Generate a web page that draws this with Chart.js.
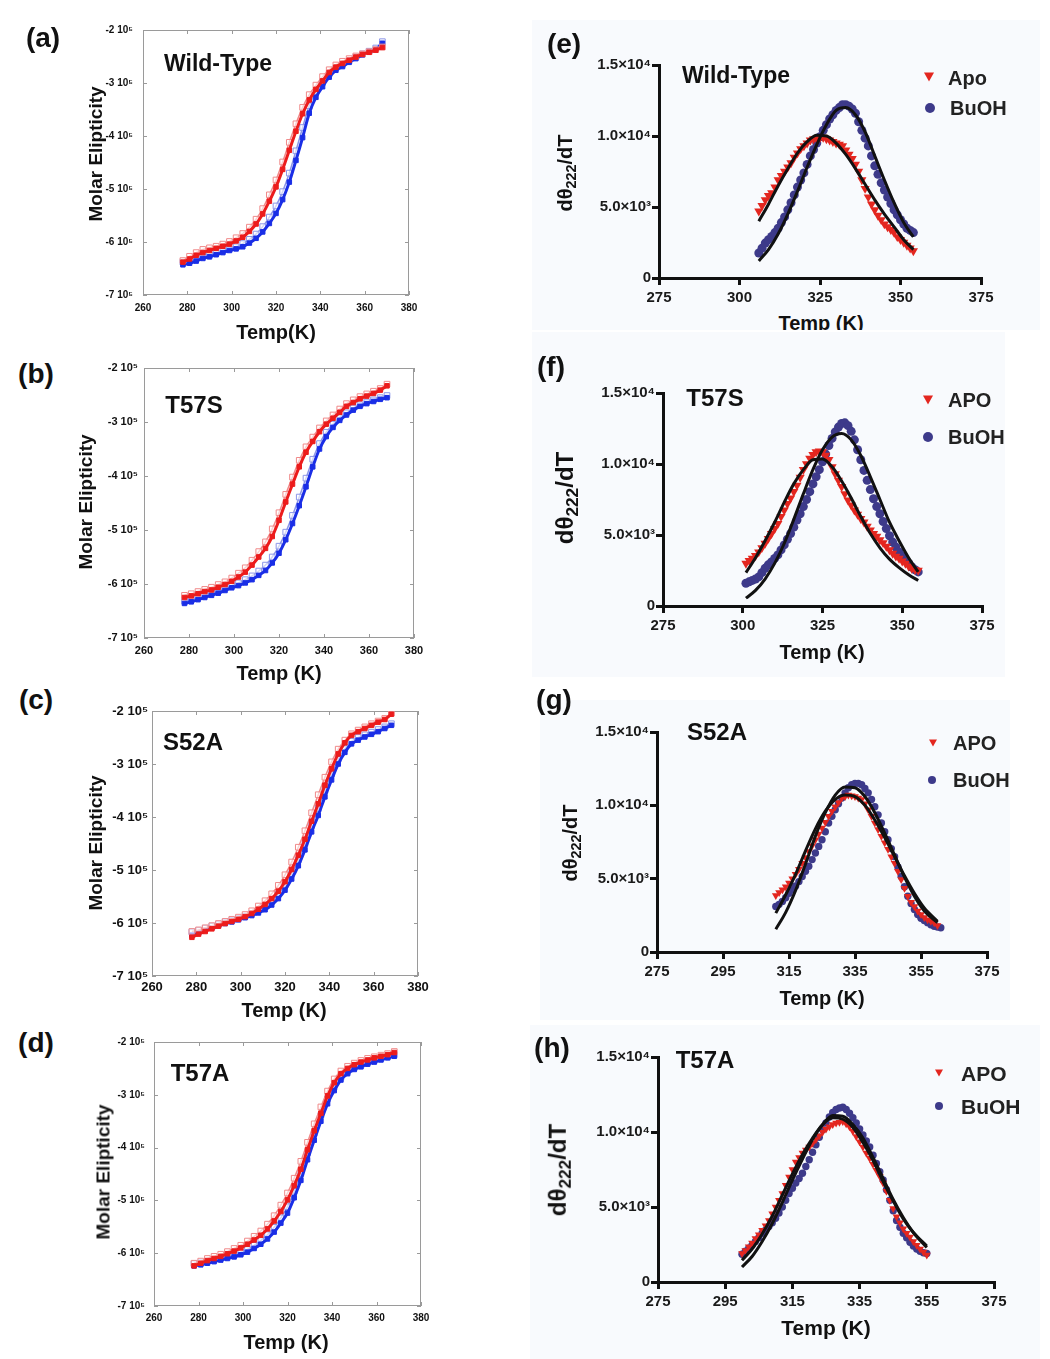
<!DOCTYPE html>
<html>
<head>
<meta charset="utf-8">
<title>Thermal melts</title>
<script src="https://cdn.jsdelivr.net/npm/chart.js@4.4.1/dist/chart.umd.min.js"></script>
<style>
  body { margin: 0; background: #fff; width: 1050px; height: 1359px; position: relative; overflow: hidden;
         font-family: Arial, "Liberation Sans", Helvetica, sans-serif; }
  canvas { position: absolute; z-index: 1; }
  .bg { position: absolute; background: #f8fafd; overflow: hidden; z-index: 0; }
  .t { position: absolute; transform: translate(-50%, -50%); white-space: nowrap; font-weight: bold;
       color: #111; line-height: 1; z-index: 2; }
  .rot { transform: translate(-50%, -50%) rotate(-90deg); }
  .lg { position: absolute; transform: translateY(-50%); white-space: nowrap; font-weight: bold;
        color: #222; font-size: 20px; line-height: 1; z-index: 2; }
  .tri { position: absolute; width: 0; height: 0; border-left: 5px solid transparent;
         border-right: 5px solid transparent; border-top: 9px solid #e3261f; transform: translate(-50%, -50%); z-index: 2; }
  .dot { position: absolute; width: 10px; height: 10px; border-radius: 50%; background: #3d3a8a;
         transform: translate(-50%, -50%); z-index: 2; }
  .sm.tri { border-left-width: 4px; border-right-width: 4px; border-top-width: 7px; }
  .sm.dot { width: 8px; height: 8px; }
  sub { font-size: 0.72em; vertical-align: -0.3em; }
</style>
</head>
<body>

<!-- faint backgrounds of the right-hand panels -->
<div class="bg" style="left:532px;top:20px;width:508px;height:310px;">
  <div class="t" style="left:289px;top:303px;font-size:20px;">Temp (K)</div>
</div>
<div class="bg" style="left:532px;top:332px;width:473px;height:345px;"></div>
<div class="bg" style="left:540px;top:700px;width:470px;height:320px;"></div>
<div class="bg" style="left:530px;top:1025px;width:510px;height:334px;"></div>

<canvas id="chartA"></canvas>
<canvas id="chartB"></canvas>
<canvas id="chartC"></canvas>
<canvas id="chartD"></canvas>
<canvas id="chartE"></canvas>
<canvas id="chartF"></canvas>
<canvas id="chartG"></canvas>
<canvas id="chartH"></canvas>

<!-- panel letters -->
<div class="t" style="left:43px;top:38px;font-size:28px;">(a)</div>
<div class="t" style="left:36px;top:374px;font-size:28px;">(b)</div>
<div class="t" style="left:36px;top:700px;font-size:28px;">(c)</div>
<div class="t" style="left:36px;top:1043px;font-size:28px;">(d)</div>
<div class="t" style="left:564px;top:44px;font-size:28px;">(e)</div>
<div class="t" style="left:551px;top:367px;font-size:28px;">(f)</div>
<div class="t" style="left:554px;top:700px;font-size:28px;">(g)</div>
<div class="t" style="left:552px;top:1048px;font-size:28px;">(h)</div>

<!-- protein names -->
<div class="t" style="left:218px;top:63px;font-size:23px;">Wild-Type</div>
<div class="t" style="left:194px;top:405px;font-size:24px;">T57S</div>
<div class="t" style="left:193px;top:742px;font-size:24px;">S52A</div>
<div class="t" style="left:200px;top:1073px;font-size:24px;">T57A</div>
<div class="t" style="left:736px;top:75px;font-size:23px;">Wild-Type</div>
<div class="t" style="left:715px;top:398px;font-size:24px;">T57S</div>
<div class="t" style="left:717px;top:732px;font-size:24px;">S52A</div>
<div class="t" style="left:705px;top:1060px;font-size:24px;">T57A</div>

<!-- axis titles, left column -->
<div class="t rot" style="left:95px;top:154px;font-size:19px;">Molar Elipticity</div>
<div class="t" style="left:276px;top:332px;font-size:20px;">Temp(K)</div>
<div class="t rot" style="left:85px;top:502px;font-size:19px;">Molar Elipticity</div>
<div class="t" style="left:279px;top:673px;font-size:20px;">Temp (K)</div>
<div class="t rot" style="left:95px;top:843px;font-size:19px;">Molar Elipticity</div>
<div class="t" style="left:284px;top:1010px;font-size:20px;">Temp (K)</div>
<div class="t rot" style="left:103px;top:1172px;font-size:19px;">Molar Elipticity</div>
<div class="t" style="left:286px;top:1342px;font-size:20px;">Temp (K)</div>

<!-- axis titles, right column -->
<div class="t rot" style="left:567px;top:173px;font-size:20px;">d&theta;<sub>222</sub>/dT</div>
<div class="t rot" style="left:567px;top:498px;font-size:24px;">d&theta;<sub>222</sub>/dT</div>
<div class="t" style="left:822px;top:652px;font-size:20px;">Temp (K)</div>
<div class="t rot" style="left:572px;top:843px;font-size:20px;">d&theta;<sub>222</sub>/dT</div>
<div class="t" style="left:822px;top:998px;font-size:20px;">Temp (K)</div>
<div class="t rot" style="left:560px;top:1170px;font-size:24px;">d&theta;<sub>222</sub>/dT</div>
<div class="t" style="left:826px;top:1327px;font-size:21px;">Temp (K)</div>

<!-- legends, right column -->
<div class="tri" style="left:929px;top:77px;"></div><div class="lg" style="left:948px;top:78px;">Apo</div>
<div class="dot" style="left:930px;top:108px;"></div><div class="lg" style="left:950px;top:108px;">BuOH</div>
<div class="tri" style="left:928px;top:400px;"></div><div class="lg" style="left:948px;top:400px;">APO</div>
<div class="dot" style="left:928px;top:437px;"></div><div class="lg" style="left:948px;top:437px;">BuOH</div>
<div class="tri sm" style="left:933px;top:743px;"></div><div class="lg" style="left:953px;top:743px;">APO</div>
<div class="dot sm" style="left:932px;top:780px;"></div><div class="lg" style="left:953px;top:780px;">BuOH</div>
<div class="tri sm" style="left:939px;top:1073px;"></div><div class="lg" style="left:961px;top:1073px;font-size:21px;">APO</div>
<div class="dot sm" style="left:939px;top:1106px;"></div><div class="lg" style="left:961px;top:1106px;font-size:21px;">BuOH</div>

<script>
// ==============================
// Data: melting curves (a-d), molar ellipticity in units of 1e5
// ==============================
const meltT = [278,281,284,287,290,293,296,299,302,305,308,311,314,317,320,323,326,329,332,335,338,341,344,347,350,353,356,359,362,365,368];

const aRed      = [-6.38,-6.32,-6.25,-6.20,-6.16,-6.12,-6.08,-6.04,-5.98,-5.91,-5.80,-5.66,-5.47,-5.23,-4.96,-4.63,-4.27,-3.91,-3.58,-3.32,-3.12,-2.96,-2.80,-2.70,-2.63,-2.57,-2.51,-2.46,-2.42,-2.38,-2.33];
const aRedOpen  = [-6.35,-6.27,-6.20,-6.14,-6.11,-6.08,-6.04,-5.99,-5.92,-5.84,-5.72,-5.57,-5.37,-5.11,-4.83,-4.49,-4.12,-3.77,-3.46,-3.22,-3.04,-2.88,-2.75,-2.66,-2.59,-2.54,-2.49,-2.45,-2.41,-2.37,-2.32];
const aBlue     = [-6.43,-6.40,-6.36,-6.31,-6.28,-6.24,-6.20,-6.16,-6.13,-6.09,-6.02,-5.93,-5.81,-5.65,-5.46,-5.20,-4.87,-4.46,-4.03,-3.57,-3.27,-3.07,-2.89,-2.76,-2.69,-2.61,-2.54,-2.47,-2.42,-2.37,-2.25];
const aBlueOpen = [-6.38,-6.36,-6.31,-6.27,-6.24,-6.21,-6.17,-6.13,-6.09,-6.03,-5.95,-5.85,-5.71,-5.53,-5.32,-5.05,-4.70,-4.28,-3.84,-3.43,-3.17,-2.99,-2.83,-2.72,-2.65,-2.58,-2.51,-2.45,-2.40,-2.34,-2.22];

const bRed      = [-6.25,-6.22,-6.18,-6.14,-6.11,-6.06,-6.01,-5.95,-5.87,-5.78,-5.65,-5.50,-5.34,-5.12,-4.82,-4.48,-4.15,-3.83,-3.56,-3.36,-3.18,-3.04,-2.93,-2.82,-2.71,-2.64,-2.57,-2.52,-2.47,-2.41,-2.33];
const bRedOpen  = [-6.21,-6.18,-6.14,-6.10,-6.06,-6.01,-5.96,-5.89,-5.80,-5.70,-5.56,-5.40,-5.22,-4.98,-4.68,-4.34,-4.02,-3.71,-3.46,-3.28,-3.11,-2.98,-2.87,-2.76,-2.66,-2.59,-2.53,-2.48,-2.43,-2.38,-2.30];
const bBlue     = [-6.36,-6.33,-6.29,-6.25,-6.21,-6.17,-6.12,-6.07,-6.03,-5.98,-5.92,-5.84,-5.75,-5.61,-5.43,-5.18,-4.88,-4.55,-4.20,-3.83,-3.50,-3.27,-3.10,-2.97,-2.87,-2.78,-2.71,-2.66,-2.62,-2.58,-2.55];
const bBlueOpen = [-6.32,-6.29,-6.25,-6.21,-6.17,-6.13,-6.08,-6.03,-5.98,-5.92,-5.85,-5.76,-5.65,-5.50,-5.30,-5.04,-4.73,-4.39,-4.04,-3.69,-3.40,-3.19,-3.04,-2.92,-2.83,-2.74,-2.68,-2.63,-2.59,-2.55,-2.51];

const cRed      = [-6.27,-6.21,-6.16,-6.11,-6.06,-6.01,-5.97,-5.93,-5.88,-5.82,-5.74,-5.65,-5.54,-5.40,-5.22,-4.99,-4.72,-4.42,-4.08,-3.75,-3.40,-3.09,-2.81,-2.60,-2.46,-2.39,-2.33,-2.27,-2.21,-2.16,-2.06];
const cRedOpen  = [-6.16,-6.13,-6.09,-6.05,-6.01,-5.97,-5.93,-5.89,-5.84,-5.77,-5.68,-5.58,-5.45,-5.29,-5.09,-4.85,-4.57,-4.26,-3.92,-3.58,-3.25,-2.96,-2.72,-2.55,-2.43,-2.36,-2.30,-2.24,-2.19,-2.14,-2.04];
const cBlue     = [-6.23,-6.19,-6.14,-6.09,-6.05,-6.01,-5.98,-5.94,-5.90,-5.86,-5.81,-5.75,-5.66,-5.54,-5.38,-5.17,-4.92,-4.62,-4.28,-3.97,-3.62,-3.30,-3.00,-2.78,-2.62,-2.55,-2.49,-2.44,-2.39,-2.33,-2.27];
const cBlueOpen = [-6.17,-6.14,-6.10,-6.06,-6.02,-5.98,-5.95,-5.91,-5.87,-5.82,-5.76,-5.69,-5.59,-5.46,-5.29,-5.07,-4.81,-4.50,-4.16,-3.84,-3.50,-3.19,-2.91,-2.71,-2.57,-2.50,-2.45,-2.40,-2.35,-2.30,-2.24];

const dRed      = [-6.24,-6.19,-6.14,-6.10,-6.06,-6.01,-5.96,-5.90,-5.83,-5.75,-5.66,-5.54,-5.39,-5.21,-4.99,-4.72,-4.41,-4.04,-3.68,-3.35,-3.02,-2.77,-2.60,-2.50,-2.43,-2.38,-2.34,-2.30,-2.27,-2.24,-2.20];
const dRedOpen  = [-6.19,-6.15,-6.10,-6.06,-6.02,-5.97,-5.91,-5.85,-5.77,-5.68,-5.58,-5.45,-5.29,-5.09,-4.86,-4.58,-4.26,-3.90,-3.55,-3.23,-2.93,-2.70,-2.55,-2.46,-2.40,-2.35,-2.31,-2.28,-2.25,-2.22,-2.18];
const dBlue     = [-6.24,-6.22,-6.19,-6.16,-6.13,-6.10,-6.07,-6.03,-5.98,-5.91,-5.83,-5.73,-5.60,-5.43,-5.24,-4.95,-4.62,-4.23,-3.86,-3.50,-3.17,-2.92,-2.72,-2.60,-2.52,-2.47,-2.42,-2.38,-2.34,-2.30,-2.27];
const dBlueOpen = [-6.20,-6.18,-6.15,-6.12,-6.09,-6.06,-6.03,-5.98,-5.93,-5.85,-5.76,-5.65,-5.51,-5.33,-5.12,-4.83,-4.49,-4.10,-3.73,-3.39,-3.08,-2.85,-2.67,-2.56,-2.49,-2.44,-2.39,-2.35,-2.31,-2.28,-2.24];

const meltXTicks = [260, 280, 300, 320, 340, 360, 380];
const meltYTicks = [-7, -6, -5, -4, -3, -2];
const meltYTickLabels = ['-7 10\u2075', '-6 10\u2075', '-5 10\u2075', '-4 10\u2075', '-3 10\u2075', '-2 10\u2075'];

// ==============================
// Data: first derivative (e-h), d(theta)/dT in units of 1e3
// ==============================
const eT       = [306,307,308,309,310,311,312,313,314,315,316,317,318,319,320,321,322,323,324,325,326,327,328,329,330,
                  331,332,333,334,335,336,337,338,339,340,341,342,343,344,345,346,347,348,349,350,351,352,353,354];
const eApo     = [4.7,5.1,5.5,5.8,6.0,6.4,6.9,7.2,7.5,7.8,8.1,8.5,8.8,9.1,9.3,9.5,9.7,9.8,9.8,9.9,9.9,9.8,9.7,9.6,9.5,
                  9.4,9.3,9.0,8.7,8.4,8.0,7.5,6.9,6.3,5.7,5.2,4.8,4.4,4.1,3.8,3.6,3.4,3.2,2.9,2.7,2.5,2.3,2.1,1.9];
const eBuoh    = [1.76,2.1,2.46,2.7,2.93,3.2,3.5,3.9,4.3,4.8,5.3,5.85,6.4,6.9,7.4,8.0,8.6,9.05,9.5,9.95,10.4,10.8,11.2,11.5,11.8,
                  12.0,12.2,12.2,12.1,11.9,11.6,11.0,10.4,9.85,9.3,8.6,7.9,7.3,6.7,6.2,5.7,5.25,4.8,4.45,4.1,3.8,3.5,3.35,3.2];
const eFitT    = [306,309,312,315,318,321,324,327,330,333,336,339,342,345,348,351,354];
const eFitApo  = [4.0,5.2,6.5,7.7,8.8,9.6,10.05,10.0,9.5,8.7,7.7,6.6,5.5,4.5,3.6,2.7,2.0];
const eFitBuoh = [1.2,2.0,3.1,4.5,6.1,7.8,9.4,10.8,11.8,12.0,11.5,10.3,8.6,6.9,5.3,3.9,2.9];

const fT       = [301,302,303,304,305,306,307,308,309,310,311,312,313,314,315,316,317,318,319,320,321,322,323,324,325,326,327,328,
                  329,330,331,332,333,334,335,336,337,338,339,340,341,342,343,344,345,346,347,348,349,350,351,352,353,354,355];
const fApo     = [3.0,3.2,3.35,3.55,3.8,4.1,4.4,4.75,5.1,5.45,5.8,6.3,6.75,7.2,7.6,8.05,8.5,9.05,9.6,10.0,10.4,10.65,10.85,10.9,10.85,10.6,10.3,9.8,
                  9.3,8.85,8.4,7.9,7.45,7.1,6.75,6.45,6.15,5.9,5.6,5.35,5.1,4.9,4.65,4.45,4.2,3.95,3.7,3.5,3.35,3.15,3.0,2.8,2.65,2.55,2.5];
const fBuoh    = [1.6,1.7,1.8,1.9,2.05,2.35,2.65,2.9,3.1,3.35,3.6,3.95,4.3,4.7,5.1,5.55,6.05,6.5,7.0,7.5,8.05,8.6,9.1,9.6,10.15,10.7,11.3,11.8,
                  12.25,12.6,12.85,12.9,12.7,12.3,11.7,11.0,10.3,9.55,8.85,8.2,7.55,7.0,6.5,5.95,5.45,4.95,4.5,4.15,3.8,3.5,3.25,3.0,2.75,2.55,2.4];
const fFitT    = [301,304,307,310,313,316,319,322,325,328,331,334,337,340,343,346,349,352,355];
const fFitApo  = [2.35,3.4,4.6,5.9,7.3,8.6,9.6,10.3,10.35,9.8,8.8,7.6,6.3,5.1,4.1,3.3,2.7,2.2,1.8];
const fFitBuoh = [0.55,1.1,1.9,3.0,4.4,6.1,7.9,9.6,11.0,11.9,12.15,11.7,10.6,9.1,7.5,5.9,4.6,3.4,2.4];

const gApoT    = [311,312,313,314,315,316,317,318,319,320,321,322,323,324,325,326,327,328,329,330,331,332,333,334,335,
                  336,337,338,339,340,341,342,343,344,345,346,347,348,349,350,351,352,353,354,355,356,357,358,359,360];
const gApo     = [3.85,4.05,4.25,4.45,4.7,5.0,5.3,5.65,6.05,6.45,6.85,7.25,7.65,8.05,8.45,8.85,9.25,9.6,9.9,10.2,10.5,10.6,10.7,10.65,10.6,
                  10.5,10.4,10.1,9.7,9.25,8.8,8.35,7.9,7.45,7.0,6.5,6.05,5.5,4.95,4.35,3.8,3.4,3.1,2.8,2.55,2.35,2.2,2.1,2.0,1.8];
const gBuohT   = [311,312,313,314,315,316,317,318,319,320,321,322,323,324,325,326,327,328,329,330,331,332,333,334,335,336,
                  337,338,339,340,341,342,343,344,345,346,347,348,349,350,351,352,353,354,355,356,357,358,359,360,361];
const gBuoh    = [3.1,3.25,3.45,3.7,4.0,4.25,4.5,4.8,5.15,5.5,5.85,6.3,6.75,7.2,7.65,8.2,8.8,9.25,9.7,10.1,10.5,10.85,11.2,11.4,11.5,11.5,
                  11.4,11.15,10.85,10.4,9.9,9.35,8.8,8.2,7.65,7.05,6.5,5.8,5.15,4.45,3.8,3.3,2.9,2.55,2.3,2.15,2.0,1.85,1.75,1.7,1.65];
const gFitT    = [311,314,317,320,323,326,329,332,335,338,341,344,347,350,353,356,360];
const gFitApo  = [2.65,3.9,5.3,6.9,8.4,9.6,10.4,10.7,10.6,10.0,9.0,7.8,6.5,5.2,4.0,3.0,2.1];
const gFitBuoh = [1.55,2.7,4.2,6.0,7.9,9.5,10.7,11.25,11.2,10.6,9.5,8.1,6.6,5.1,3.8,2.8,2.0];

const hT       = [300,301,302,303,304,305,306,307,308,309,310,311,312,313,314,315,316,317,318,319,320,321,322,323,324,325,326,327,
                  328,329,330,331,332,333,334,335,336,337,338,339,340,341,342,343,344,345,346,347,348,349,350,351,352,353,354,355];
const hApo     = [1.9,2.1,2.35,2.6,2.9,3.15,3.45,3.75,4.1,4.55,5.0,5.45,5.9,6.45,7.0,7.5,8.0,8.3,8.6,8.8,9.0,9.25,9.5,9.75,10.0,10.2,10.35,10.5,
                  10.6,10.65,10.7,10.55,10.35,10.05,9.7,9.35,9.0,8.6,8.25,7.85,7.45,7.05,6.6,6.05,5.45,4.9,4.35,3.95,3.55,3.25,3.0,2.7,2.45,2.2,2.0,1.8];
const hBuoh    = [1.85,2.05,2.25,2.45,2.7,2.95,3.25,3.45,3.7,3.95,4.25,4.6,5.0,5.45,5.9,6.25,6.6,6.9,7.25,7.7,8.15,8.65,9.15,9.65,10.15,10.6,11.0,11.3,
                  11.5,11.6,11.65,11.5,11.25,10.95,10.6,10.2,9.8,9.4,9.0,8.45,7.9,7.35,6.8,6.15,5.45,4.75,4.1,3.65,3.25,2.95,2.65,2.4,2.2,2.05,1.95,1.9];
const hFitT    = [300,303,306,309,312,315,318,321,324,327,330,333,336,339,342,345,348,351,355];
const hFitApo  = [1.45,2.2,3.2,4.4,5.8,7.2,8.5,9.6,10.5,10.95,10.85,10.3,9.3,8.1,6.7,5.4,4.2,3.3,2.4];
const hFitBuoh = [1.0,1.7,2.7,3.9,5.3,6.8,8.2,9.5,10.5,11.1,11.05,10.5,9.6,8.3,6.9,5.5,4.3,3.3,2.3];

const derivYTicks = [0, 5, 10, 15];
const derivYTickLabels = ['0', '5.0\u00d710\u00b3', '1.0\u00d710\u2074', '1.5\u00d710\u2074'];

// ==============================
// Shared helpers
// ==============================
const FONT = 'Arial, "Liberation Sans", Helvetica, sans-serif';
Chart.defaults.font.family = FONT;
Chart.defaults.color = '#111';

const pts = (xs, ys) => xs.map((x, i) => ({ x: x, y: ys[i] }));

// grey box with inward tick marks on all four sides (panels a-d)
const boxFrame = {
    id: 'boxFrame',
    beforeDatasetsDraw(chart) {
        const { ctx, chartArea: a, scales: { x, y } } = chart;
        ctx.save();
        ctx.strokeStyle = '#9a9a9a';
        ctx.lineWidth = 1;
        ctx.strokeRect(a.left + 0.5, a.top + 0.5, a.right - a.left - 1, a.bottom - a.top - 1);
        ctx.beginPath();
        x.ticks.forEach(t => {
            const px = Math.round(x.getPixelForValue(t.value)) + 0.5;
            ctx.moveTo(px, a.bottom); ctx.lineTo(px, a.bottom - 4);
            ctx.moveTo(px, a.top); ctx.lineTo(px, a.top + 4);
        });
        y.ticks.forEach(t => {
            const py = Math.round(y.getPixelForValue(t.value)) + 0.5;
            ctx.moveTo(a.left, py); ctx.lineTo(a.left + 4, py);
            ctx.moveTo(a.right, py); ctx.lineTo(a.right - 4, py);
        });
        ctx.stroke();
        ctx.restore();
    }
};

function placeCanvas(id, box) {
    const cv = document.getElementById(id);
    cv.style.left = box.x + 'px';
    cv.style.top = box.y + 'px';
    cv.width = box.w;
    cv.height = box.h;
    return cv.getContext('2d');
}

// ==============================
// Melting curve panels (a-d)
// ==============================
function meltChart(id, area, tickSize, xPad, yPad, red, redOpen, blue, blueOpen) {
    const [L, T, R, B] = area;
    const yW = 80, xH = 30;
    const box = { x: L - 85, y: T - 20, w: R - L + 110, h: B - T + 55 };
    const ctx = placeCanvas(id, box);
    const tickFont = { size: tickSize, weight: 'bold', family: FONT };

    const openSq = (ys, col) => ({
        type: 'line', data: pts(meltT, ys), borderColor: col, borderWidth: 1.5, fill: false, tension: 0.3,
        pointStyle: 'rect', pointRadius: 4,
        pointBackgroundColor: 'rgba(255,255,255,0.6)', pointBorderColor: col, pointBorderWidth: 1
    });
    const filledSq = (ys, col) => ({
        type: 'line', data: pts(meltT, ys), borderColor: col, borderWidth: 3, fill: false, tension: 0.3,
        pointStyle: 'rect', pointRadius: 3.2, pointBackgroundColor: col, pointBorderColor: col, pointBorderWidth: 1
    });

    return new Chart(ctx, {
        type: 'scatter',
        data: {
            datasets: [
                filledSq(red, '#ec1c1c'),
                openSq(redOpen, '#f08a8a'),
                filledSq(blue, '#1a2ee6'),
                openSq(blueOpen, '#8c96e8')
            ]
        },
        options: {
            responsive: false,
            animation: false,
            events: [],
            layout: { padding: { left: L - box.x - yW, top: 20, right: 25, bottom: box.h - (B - box.y) - xH } },
            plugins: { legend: { display: false }, tooltip: { enabled: false } },
            scales: {
                x: {
                    type: 'linear', min: 260, max: 380,
                    afterBuildTicks: s => { s.ticks = meltXTicks.map(v => ({ value: v })); },
                    afterFit: s => { s.height = xH; },
                    ticks: { font: tickFont, color: '#111', padding: xPad, maxRotation: 0, autoSkip: false },
                    grid: { display: false, drawTicks: false },
                    border: { display: false }
                },
                y: {
                    type: 'linear', min: -7, max: -2,
                    afterBuildTicks: s => { s.ticks = meltYTicks.map(v => ({ value: v })); },
                    afterFit: s => { s.width = yW; },
                    ticks: {
                        font: tickFont, color: '#111', padding: yPad, autoSkip: false,
                        callback: v => meltYTickLabels[meltYTicks.indexOf(v)]
                    },
                    grid: { display: false, drawTicks: false },
                    border: { display: false }
                }
            }
        },
        plugins: [boxFrame]
    });
}

meltChart('chartA', [143, 30, 409, 295], 10, 7, 10, aRed, aRedOpen, aBlue, aBlueOpen);
meltChart('chartB', [144, 368, 414, 638], 11, 6, 6, bRed, bRedOpen, bBlue, bBlueOpen);
meltChart('chartC', [152, 711, 418, 976], 13, 4, 4, cRed, cRedOpen, cBlue, cBlueOpen);
meltChart('chartD', [154, 1042, 421, 1306], 10, 6, 9, dRed, dRedOpen, dBlue, dBlueOpen);

// ==============================
// Derivative panels (e-h)
// ==============================
function derivChart(id, area, xStep, markR, apo, buoh, fitApo, fitBuoh) {
    const [L, T, R, B] = area;
    const yW = 95, xH = 35;
    const box = { x: L - 100, y: T - 20, w: R - L + 125, h: B - T + 60 };
    const ctx = placeCanvas(id, box);
    const tickFont = { size: 15, weight: 'bold', family: FONT };
    const fitLine = d => ({
        type: 'line', data: d, borderColor: '#111', borderWidth: 3, fill: false,
        cubicInterpolationMode: 'monotone', pointRadius: 0
    });

    return new Chart(ctx, {
        type: 'scatter',
        data: {
            datasets: [
                fitLine(fitApo),
                fitLine(fitBuoh),
                { data: apo, pointStyle: 'triangle', pointRotation: 180, pointRadius: markR + 0.8,
                  pointBackgroundColor: '#e3261f', pointBorderColor: '#e3261f', pointBorderWidth: 0 },
                { data: buoh, pointStyle: 'circle', pointRadius: markR,
                  pointBackgroundColor: '#3d3a8a', pointBorderColor: '#3d3a8a', pointBorderWidth: 0 }
            ]
        },
        options: {
            responsive: false,
            animation: false,
            events: [],
            layout: { padding: { left: L - box.x - yW, top: 20, right: 25, bottom: box.h - (B - box.y) - xH } },
            plugins: { legend: { display: false }, tooltip: { enabled: false } },
            scales: {
                x: {
                    type: 'linear', min: 275, max: 375,
                    ticks: { stepSize: xStep, font: tickFont, color: '#1a1a1a', padding: 4, maxRotation: 0, autoSkip: false },
                    afterFit: s => { s.height = xH; },
                    grid: { drawOnChartArea: false, drawTicks: true, tickLength: 7, lineWidth: 3, color: '#111' },
                    border: { display: true, width: 3, color: '#111' }
                },
                y: {
                    type: 'linear', min: 0, max: 15,
                    afterBuildTicks: s => { s.ticks = derivYTicks.map(v => ({ value: v })); },
                    afterFit: s => { s.width = yW; },
                    ticks: {
                        font: tickFont, color: '#1a1a1a', padding: 1, autoSkip: false,
                        callback: v => derivYTickLabels[derivYTicks.indexOf(v)]
                    },
                    grid: { drawOnChartArea: false, drawTicks: true, tickLength: 7, lineWidth: 3, color: '#111' },
                    border: { display: true, width: 3, color: '#111' }
                }
            }
        }
    });
}

derivChart('chartE', [659, 65, 981, 278], 25, 4.5,
    pts(eT, eApo), pts(eT, eBuoh), pts(eFitT, eFitApo), pts(eFitT, eFitBuoh));
derivChart('chartF', [663, 393, 982, 606], 25, 4.5,
    pts(fT, fApo), pts(fT, fBuoh), pts(fFitT, fFitApo), pts(fFitT, fFitBuoh));
derivChart('chartG', [657, 732, 987, 952], 20, 3.7,
    pts(gApoT, gApo), pts(gBuohT, gBuoh), pts(gFitT, gFitApo), pts(gFitT, gFitBuoh));
derivChart('chartH', [658, 1057, 994, 1282], 20, 3.7,
    pts(hT, hApo), pts(hT, hBuoh), pts(hFitT, hFitApo), pts(hFitT, hFitBuoh));
</script>
</body>
</html>
